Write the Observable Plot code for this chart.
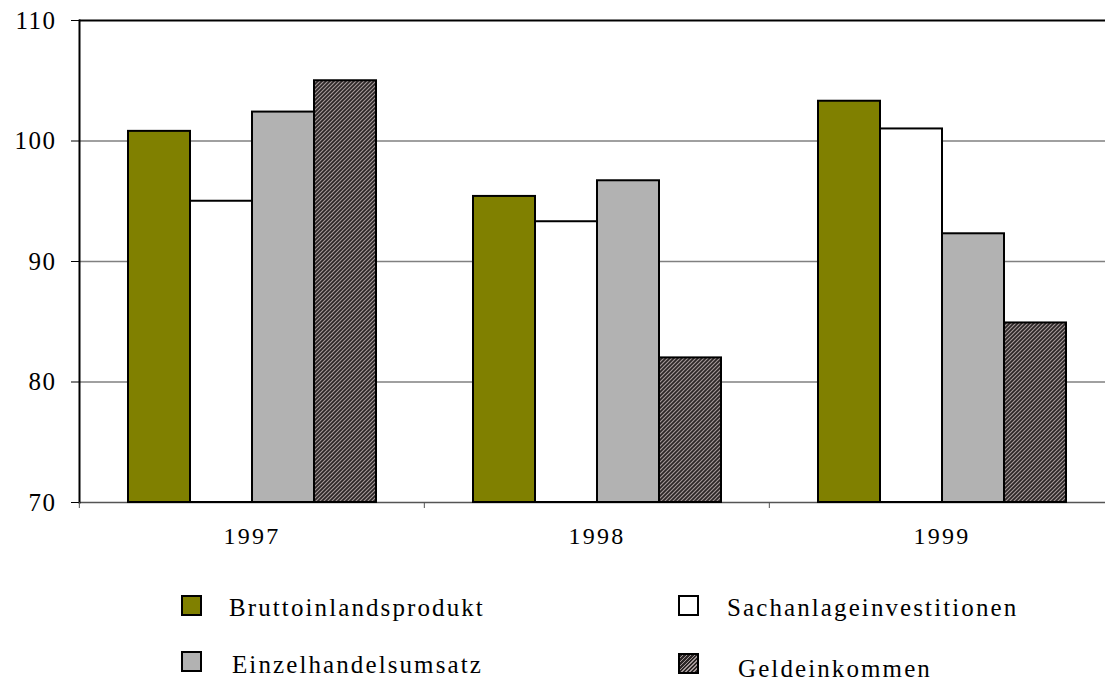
<!DOCTYPE html>
<html>
<head>
<meta charset="utf-8">
<script src="https://cdn.jsdelivr.net/npm/d3@7"></script>
<script src="https://cdn.jsdelivr.net/npm/@observablehq/plot@0.6"></script>
<style>
  html, body { margin: 0; padding: 0; background: #fff; overflow: hidden; }
  #wrap { position: relative; width: 1105px; height: 681px; overflow: hidden; }
  .lg { position: absolute; font-family: "Liberation Serif", "Times New Roman", Times, serif; font-size: 25px; line-height: 1; letter-spacing: 2.1px; color: #000; white-space: nowrap; }
  .sw { position: absolute; width: 17px; height: 17px; border: 2.5px solid #000; box-sizing: content-box; }
</style>
</head>
<body>
<div id="wrap"></div>
<script>
const years = ["1997", "1998", "1999"];
const series = ["Bruttoinlandsprodukt", "Sachanlageinvestitionen", "Einzelhandelsumsatz", "Geldeinkommen"];
const bip = [100.8, 95.4, 103.3];
const sachanlage = [95.0, 93.3, 101.0];
const einzelhandel = [102.4, 96.7, 92.3];
const geldeinkommen = [105.0, 82.0, 84.9];
const yTicks = [70, 80, 90, 100, 110];
const colors = ["#808000", "#ffffff", "#b2b2b2", "url(#hatch)"];

const seriesValues = [bip, sachanlage, einzelhandel, geldeinkommen];
const data = [];
years.forEach((y, i) => series.forEach((s, j) => data.push({year: y, series: s, value: seriesValues[j][i]})));

const font = '"Liberation Serif", "Times New Roman", Times, serif';
const W = 1116;

const chart = Plot.plot({
  width: W,
  height: 560,
  marginLeft: 78,
  marginRight: 2,
  marginTop: 20,
  marginBottom: 58,
  style: {fontFamily: font, fontSize: "25px", background: "#fff", overflow: "visible", maxWidth: "none"},
  fx: {domain: years, padding: 0, label: null},
  x: {domain: series, paddingInner: 0, paddingOuter: 0.746, axis: null},
  y: {domain: [70, 110], label: null},
  color: {type: "ordinal", domain: series, range: colors},
  marks: [
    Plot.gridY([80, 90, 100], {stroke: "#808080", strokeOpacity: 1, strokeWidth: 1.3}),
    Plot.ruleY([110], {stroke: "#000", strokeWidth: 2}),
    Plot.ruleY([70], {stroke: "#555", strokeWidth: 1.5}),
    Plot.barY(data, {fx: "year", x: "series", y1: 70, y2: "value", fill: "series", stroke: "#000", strokeWidth: 2}),
    Plot.frame({anchor: "left", facetAnchor: "left", stroke: "#000", strokeWidth: 2}),
    Plot.axisY(yTicks, {anchor: "left", tickSize: 8, tickPadding: 15, label: null, fontSize: 25, stroke: "#000"}),
    Plot.axisFx({anchor: "bottom", tickSize: 0, tickPadding: 24, label: null, fontSize: 24}),
    Plot.axisFx({anchor: "bottom", tickSize: 6, text: null, label: null, dx: -(W - 80) / 6, stroke: "#555"})
  ]
});

// hatch pattern definition
const svg = d3.select(chart);
const defs = svg.insert("defs", ":first-child");
const pat = defs.append("pattern").attr("id", "hatch").attr("patternUnits", "userSpaceOnUse")
  .attr("width", 4).attr("height", 4);
pat.append("rect").attr("width", 4).attr("height", 4).attr("fill", "#2b2626");
pat.append("path").attr("d", "M-1,1 l2,-2 M0,4 l4,-4 M3,5 l2,-2").attr("stroke", "#a59a9a").attr("stroke-width", 1.1);
svg.selectAll("text").style("font-family", font);
svg.selectAll("[aria-label='y-axis tick label'] text").style("letter-spacing", "1.5px");
svg.selectAll("[aria-label='fx-axis tick label'] text").style("letter-spacing", "2.3px");

const wrap = document.getElementById("wrap");
wrap.appendChild(chart);

// legend below the chart
const legendItems = [
  {i: 0, sx: 181, sy: 595, tx: 229, base: 616},
  {i: 1, sx: 678, sy: 595, tx: 727, base: 616},
  {i: 2, sx: 181, sy: 651, tx: 232, base: 673},
  {i: 3, sx: 678, sy: 653, tx: 738, base: 677}
];
legendItems.forEach(d => {
  const sw = document.createElement("div");
  sw.className = "sw";
  sw.style.left = d.sx + "px";
  sw.style.top = d.sy + "px";
  if (d.i === 3) {
    sw.style.background = "repeating-linear-gradient(135deg, #2b2626 0px, #2b2626 1.5px, #a59a9a 1.5px, #a59a9a 2.8px)";
  } else {
    sw.style.background = colors[d.i];
  }
  wrap.appendChild(sw);
  const t = document.createElement("div");
  t.className = "lg";
  t.style.left = d.tx + "px";
  t.style.top = (d.base - 21) + "px";
  t.textContent = series[d.i];
  wrap.appendChild(t);
});
</script>
</body>
</html>
